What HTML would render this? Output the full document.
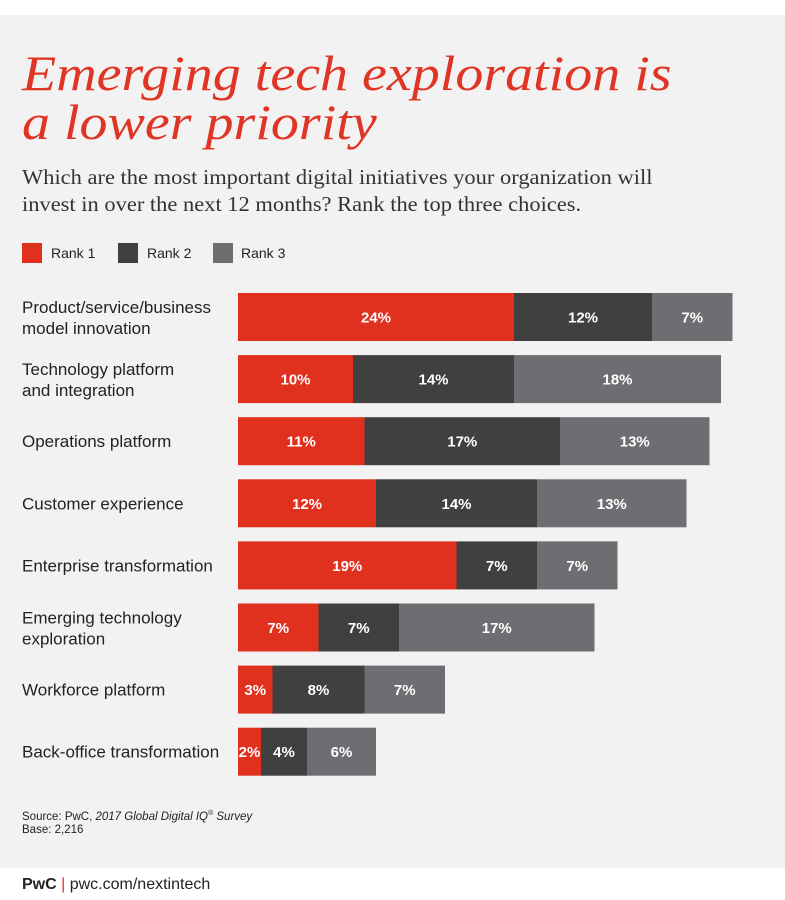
<!DOCTYPE html>
<html><head><meta charset="utf-8"><style>
body{margin:0;width:785px;height:900px;background:#fff;position:relative;overflow:hidden;font-family:"Liberation Sans",sans-serif}
#panel{position:absolute;left:0;top:15px;width:785px;height:853px;background:#f2f2f2}
.t{position:absolute;white-space:nowrap}
.sq{position:absolute;top:243px;width:20px;height:20px}
.lg{position:absolute;top:245px;font-size:14px;color:#222;white-space:nowrap}
</style></head><body>
<div id="panel"></div>
<div class="t" style="left:22px;top:49px;font:italic 50px/49px 'Liberation Serif',serif;color:#e03424;transform:scaleX(1.12);transform-origin:0 0">Emerging tech exploration is<br>a lower priority</div>
<div class="t" style="left:22px;top:164px;font:21px/27px 'Liberation Serif',serif;color:#333;transform:scaleX(1.07);transform-origin:0 0">Which are the most important digital initiatives your organization will<br>invest in over the next 12 months? Rank the top three choices.</div>
<div>
<div class="sq" style="left:22px;background:#e0301e"></div><div class="lg" style="left:51px">Rank 1</div>
<div class="sq" style="left:118px;background:#404041"></div><div class="lg" style="left:147px">Rank 2</div>
<div class="sq" style="left:213px;background:#6d6e71"></div><div class="lg" style="left:241px">Rank 3</div>
</div>
<svg id="chart" width="785" height="900" style="position:absolute;left:0;top:0"></svg>
<div class="t" style="left:22px;top:807px;font-size:11.5px;line-height:13px;color:#222">Source: PwC, <i>2017 Global Digital IQ<sup style="font-size:7px">®</sup> Survey</i><br>Base: 2,216</div>
<div class="t" style="left:22px;top:876px;font-size:16px;color:#222"><b>PwC</b> <span style="color:#e0301e">|</span> pwc.com/nextintech</div>
<script>
const categories=[["Product/service/business","model innovation"],["Technology platform","and integration"],["Operations platform"],["Customer experience"],["Enterprise transformation"],["Emerging technology","exploration"],["Workforce platform"],["Back-office transformation"]];
const rank1=[24,10,11,12,19,7,3,2];
const rank2=[12,14,17,14,7,7,8,4];
const rank3=[7,18,13,13,7,17,7,6];
const colors=["#e0301e","#404041","#6d6e71"];
const ns="http://www.w3.org/2000/svg";
const svg=document.getElementById('chart');
const x=v=>238+v*11.5;
const y=i=>293+i*62.1;
const bh=48;
function mk(t,a){const e=document.createElementNS(ns,t);for(const k in a)e.setAttribute(k,a[k]);svg.appendChild(e);return e;}
categories.forEach((c,i)=>{
  const series=[rank1[i],rank2[i],rank3[i]];
  let acc=0;
  series.forEach((v,s)=>{
    const r=mk('rect',{x:x(acc),y:y(i),width:x(acc+v)-x(acc),height:bh,fill:colors[s]});
    
    
    const t=mk('text',{x:(x(acc)+x(acc+v))/2,y:y(i)+bh/2+5.5,'text-anchor':'middle',fill:'#fff','font-size':15,'font-weight':'bold','font-family':'Liberation Sans, sans-serif'});
    t.textContent=v+'%';
    
    
    acc+=v;
  });
  const lab=mk('text',{x:22,y:0,fill:'#222','font-size':17,'font-family':'Liberation Sans, sans-serif'});
  
  
  const base=c.length===2?y(i)+bh/2-4:y(i)+bh/2+6;
  c.forEach((ln,k)=>{const ts=document.createElementNS(ns,'tspan');ts.setAttribute('x',22);ts.setAttribute('y',base+k*21);ts.textContent=ln;lab.appendChild(ts);});
});
</script>
</body></html>
